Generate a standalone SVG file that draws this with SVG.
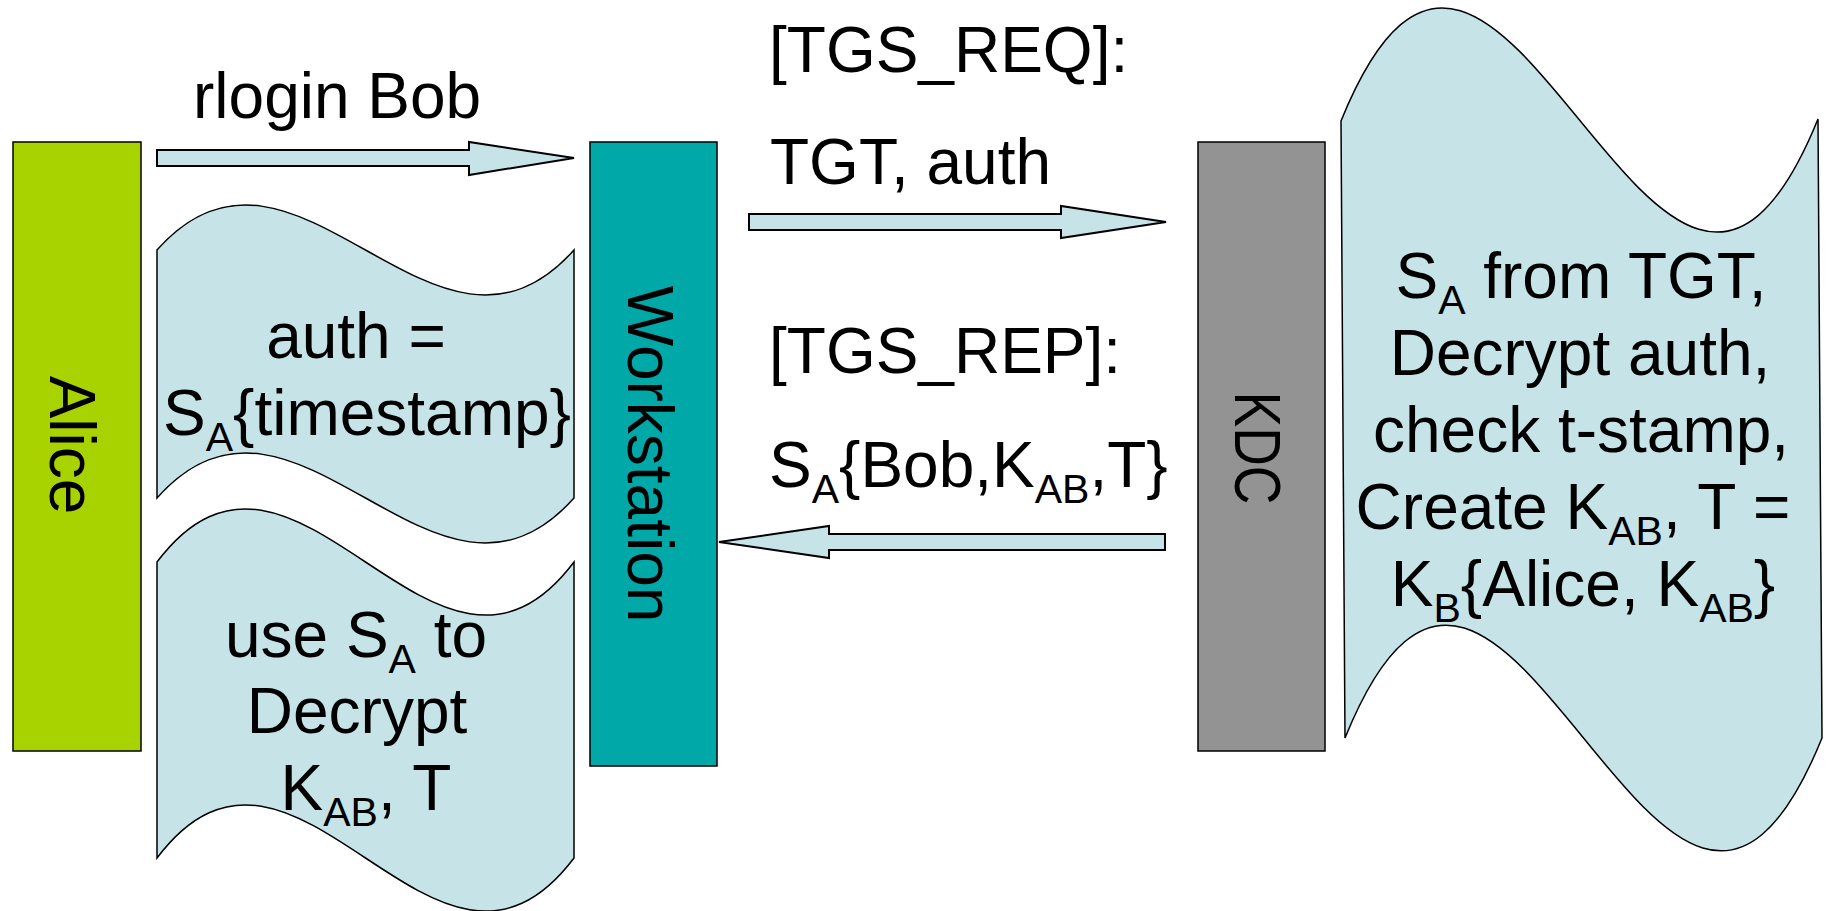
<svg xmlns="http://www.w3.org/2000/svg" width="1827" height="911" viewBox="0 0 1827 911">
<style>
.t{font-family:"Liberation Sans",Arial,sans-serif;font-size:64px;fill:#000}
.box{stroke:#000;stroke-width:1.5}
.wave{fill:#c6e4e8;stroke:#000;stroke-width:1.5}
.arr{fill:#c6e4e8;stroke:#000;stroke-width:2}
.sub{font-size:41px}
</style>
<rect width="1827" height="911" fill="#fff"/>
<g id="alice">
<rect class="box" x="13" y="142" width="128" height="609" fill="#a8d300"/>
<text class="t" text-anchor="middle" transform="translate(72,445) rotate(90)" y="22">Alice</text>
</g>
<g id="workstation">
<rect class="box" x="590" y="142" width="127" height="624" fill="#00a8a8"/>
<text class="t" text-anchor="middle" transform="translate(650,454) rotate(90)" y="22">Workstation</text>
</g>
<g id="kdc">
<rect class="box" x="1198" y="142" width="127" height="609" fill="#939393"/>
<text class="t" text-anchor="middle" transform="translate(1258,448) rotate(90)" y="23" textLength="113" lengthAdjust="spacingAndGlyphs">KDC</text>
</g>
<g id="auth">
<path class="wave" d="M157,250 C296,94 435,406 574,250 L574,498 C435,654 296,342 157,498 Z"/>
<text class="t" text-anchor="middle" x="356" y="358">auth =</text>
<text class="t" text-anchor="middle" x="367" y="435">S<tspan class="sub" dy="16">A</tspan><tspan dy="-16">{timestamp}</tspan></text>
</g>
<g id="decrypt">
<path class="wave" d="M157,562 C296,378 435,746 574,562 L574,858 C435,1042 296,674 157,858 Z"/>
<text class="t" text-anchor="middle" x="356" y="657">use S<tspan class="sub" dy="16">A</tspan><tspan dy="-16"> to</tspan></text>
<text class="t" text-anchor="middle" x="357" y="733">Decrypt</text>
<text class="t" text-anchor="middle" x="366" y="810">K<tspan class="sub" dy="16">AB</tspan><tspan dy="-16">, T</tspan></text>
</g>
<g id="kdc-work">
<path class="wave" d="M1341,121 C1500,-270 1659,510 1818,119 L1822,738 C1663,1129 1504,347 1345,738 Z"/>
<text class="t" text-anchor="middle" x="1581" y="298">S<tspan class="sub" dy="16">A</tspan><tspan dy="-16"> from TGT,</tspan></text>
<text class="t" text-anchor="middle" x="1580" y="375">Decrypt auth,</text>
<text class="t" text-anchor="middle" x="1581" y="452">check t-stamp,</text>
<text class="t" text-anchor="middle" x="1573" y="529">Create K<tspan class="sub" dy="16">AB</tspan><tspan dy="-16">, T =</tspan></text>
<text class="t" text-anchor="middle" x="1583" y="606">K<tspan class="sub" dy="16">B</tspan><tspan dy="-16">{Alice, K</tspan><tspan class="sub" dy="16">AB</tspan><tspan dy="-16">}</tspan></text>
</g>
<g id="connectors">
<path class="arr" d="M157,150 L469,150 L469,142 L574,158 L469,175 L469,166 L157,166 Z"/>
<path class="arr" d="M749,214 L1061,214 L1061,206 L1166,222 L1061,238 L1061,230 L749,230 Z"/>
<path class="arr" d="M1165,534 L829,534 L829,526 L719,542 L829,558 L829,550 L1165,550 Z"/>
<text class="t" x="193" y="118">rlogin Bob</text>
<text class="t" x="769" y="72">[TGS_REQ]:</text>
<text class="t" x="770" y="184">TGT, auth</text>
<text class="t" x="769" y="373">[TGS_REP]:</text>
<text class="t" x="769" y="487">S<tspan class="sub" dy="16">A</tspan><tspan dy="-16">{Bob,K</tspan><tspan class="sub" dy="16">AB</tspan><tspan dy="-16">,T}</tspan></text>
</g>
</svg>
